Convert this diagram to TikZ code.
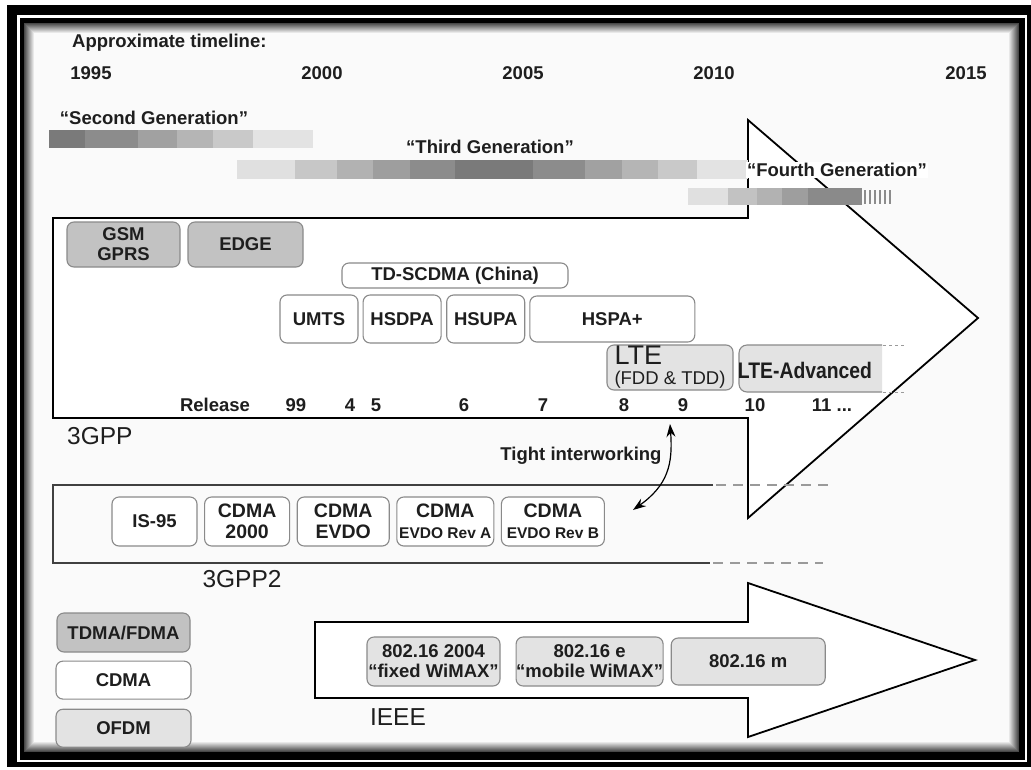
\documentclass[tikz,border=0pt]{standalone}
\usepackage{fontspec}
\setmainfont{Liberation Sans}
\usepackage{tikz}
\usetikzlibrary{calc,positioning,arrows.meta}
\definecolor{inkmain}{HTML}{1E1E1E}
\definecolor{boxline}{HTML}{8A8A8A}
\definecolor{darkfill}{HTML}{C2C2C2}
\definecolor{lightfill}{HTML}{E3E3E3}
\definecolor{dashgray}{HTML}{9A9A9A}

\begin{document}
\begin{tikzpicture}[x=1pt, y=-1pt,
  techbox/.style={
    rectangle, rounded corners=7pt, draw=boxline, line width=1.1pt,
    fill=white, inner sep=0pt, align=center, text=inkmain,
    font=\fontsize{18.5}{20}\selectfont\bfseries,
  },
  darkbox/.style={techbox, fill=darkfill},
  lightbox/.style={techbox, fill=lightfill},
  caption/.style={text=inkmain, inner sep=0pt, font=\fontsize{18.5}{20}\selectfont\bfseries},
  bodylabel/.style={text=inkmain, inner sep=0pt, font=\fontsize{24.5}{26}\selectfont},
  bigarrow/.style={draw=black, line width=1.8pt, fill=white, line join=miter},
]

% frame with inner shadow
\useasboundingbox (0,0) rectangle (1031,769);
\fill[black] (7,5) rectangle (1031,767);
\fill[white] (17,15) rectangle (1027,762);
\fill[black] (20,18) rectangle (1025,760);
\foreach \i [evaluate=\i as \g using int(72-7*\i)] in {0,...,10}
  \fill[black!\g] ({24+\i},{23+\i}) rectangle ({1019-\i},{752-\i});

% the two big arrows
\draw[bigarrow] (53,218) -- (748,218) -- (748,120) -- (978,318) -- (748,518)
  -- (748,418) -- (53,418) -- cycle;
\draw[bigarrow] (315,622) -- (748,622) -- (748,583) -- (975,660) -- (748,737)
  -- (748,698) -- (315,698) -- cycle;

% 3GPP2 band
\draw[black!75, line width=1.5pt] (713,485) -- (53,485) -- (53,563) -- (710,563);
\draw[dashgray, line width=1.4pt, dash pattern=on 10pt off 7pt] (716,485) -- (830,485);
\draw[dashgray, line width=1.4pt, dash pattern=on 10pt off 7pt] (713,563) -- (823,563);

% timeline
\node[caption, anchor=west] (hdr) at (72,43) {Approximate timeline:};
\foreach \yr/\xp in {1995/91, 2000/322, 2005/523, 2010/714, 2015/966}
  \node[caption] (y\yr) at (\xp,73) {\yr};

\foreach \xa/\xb/\g in {49/85/52, 85/138/45, 138/177/37, 177/213/29, 213/253/21, 253/313/11}
  \fill[black!\g] (\xa,130) rectangle (\xb,148);
\foreach \xa/\xb/\g in {237/295/12, 295/337/22, 337/373/30, 373/410/38, 410/455/45, 455/533/52,
  533/585/45, 585/622/37, 622/658/29, 658/697/21, 697/748/11}
  \fill[black!\g] (\xa,160) rectangle (\xb,179);
\foreach \xa/\xb/\g in {688/728/12, 728/757/24, 757/782/30, 782/808/38, 808/862/46}
  \fill[black!\g] (\xa,188) rectangle (\xb,205);
\foreach \xs in {864,869,...,889}
  \fill[black!45] (\xs,190) rectangle ++(2,14);

\node[caption] (gen2) at (154,118) {“Second Generation”};
\node[caption] (gen3) at (490,147) {“Third Generation”};
\node[caption, fill=white, inner sep=1pt] (gen4) at (837,170) {“Fourth Generation”};

% 3GPP
\node[darkbox, minimum width=113pt, minimum height=45pt] (gsm) at (123.5,244.5) {GSM\\GPRS};
\node[darkbox, minimum width=115pt, minimum height=45pt] (edge) at (245.5,244.5) {EDGE};
\node[techbox, minimum width=226pt, minimum height=25pt] (tdscdma) at (455,275.5) {TD-SCDMA (China)};
\node[techbox, minimum width=78pt, minimum height=48pt] (umts) at (319,319) {UMTS};
\node[techbox, minimum width=78pt, minimum height=48pt, right=4pt of umts] (hsdpa) {HSDPA};
\node[techbox, minimum width=78pt, minimum height=48pt, right=4.5pt of hsdpa] (hsupa) {HSUPA};
\node[techbox, minimum width=165pt, minimum height=46pt, right=4pt of hsupa] (hspa) {HSPA+};
\node[lightbox, minimum width=126pt, minimum height=45pt, align=left,
  font=\fontsize{27}{20}\selectfont] (lte) at (670,367.5)
  {LTE\\{\fontsize{18.5}{18}\selectfont(FDD \& TDD)}};
\path[fill=lightfill, draw=boxline, line width=1.1pt, rounded corners=8pt]
  (882,345) -- (739,345) -- (739,392) -- (882,392);
\draw[dashgray, line width=1pt, dash pattern=on 3pt off 3pt] (883,345) -- (904,345);
\draw[dashgray, line width=1pt, dash pattern=on 3pt off 3pt] (883,392) -- (904,392);
\node[caption, font=\fontsize{22.5}{22}\selectfont\bfseries] (lteadv) at (805,370)
  {\scalebox{0.86}[1]{LTE-Advanced}};

\node[caption] (rel) at (215,405) {Release};
\foreach \num/\xp in {99/296, 4/350, 5/376, 6/464, 7/543, 8/624, 9/683, 10/755}
  \node[caption] (r\num) at (\xp,405) {\num};
\node[caption] (r11) at (832,405) {11 ...};
\node[bodylabel, anchor=west] (tgpp) at (67,436) {3GPP};

% 3GPP2
\node[caption] (tight) at (581,456) {Tight interworking};
\node[techbox, minimum width=85pt, minimum height=49pt] (is95) at (154.5,521.5) {IS-95};
\node[techbox, minimum width=85pt, minimum height=49pt, right=6.5pt of is95,
  font=\fontsize{19.5}{21}\selectfont\bfseries] (cdma2k) {CDMA\\2000};
\node[techbox, minimum width=92pt, minimum height=49pt, right=6.5pt of cdma2k,
  font=\fontsize{19.5}{21}\selectfont\bfseries] (evdo) {CDMA\\EVDO};
\node[techbox, minimum width=97pt, minimum height=49pt, right=6.5pt of evdo,
  font=\fontsize{19.5}{21}\selectfont\bfseries] (evdoa) {CDMA\\{\fontsize{15.5}{17}\selectfont EVDO Rev A}};
\node[techbox, minimum width=103pt, minimum height=49pt, right=6.5pt of evdoa,
  font=\fontsize{19.5}{21}\selectfont\bfseries] (evdob) {CDMA\\{\fontsize{15.5}{17}\selectfont EVDO Rev B}};
\node[bodylabel] (tgpp2) at (242,579) {3GPP2};

\coordinate (iwtop) at (670,424);
\coordinate (iwbot) at (633,510);
\draw[line width=1.2pt, {Stealth[length=13pt,width=9pt]}-{Stealth[length=13pt,width=9pt]}]
  (iwbot) .. controls +(35,-25) and +(3,40) .. (iwtop);

% legend
\node[darkbox, minimum width=133pt, minimum height=39pt] (tdma) at (123.5,632.5) {TDMA/FDMA};
\node[techbox, minimum width=135pt, minimum height=38pt, below=8pt of tdma] (cdma) {CDMA};
\node[lightbox, minimum width=135pt, minimum height=38pt, below=9pt of cdma] (ofdm) {OFDM};

% IEEE
\node[lightbox, minimum width=133pt, minimum height=49pt] (wimaxf) at (433.5,661.5) {802.16 2004\\“fixed WiMAX”};
\node[lightbox, minimum width=147pt, minimum height=49pt, right=15pt of wimaxf] (wimaxm) {802.16 e\\“mobile WiMAX”};
\node[lightbox, minimum width=154pt, minimum height=47pt, right=7pt of wimaxm] (wimaxn) {802.16 m};
\node[bodylabel] (ieee) at (398,717) {IEEE};

\end{tikzpicture}
\end{document}
